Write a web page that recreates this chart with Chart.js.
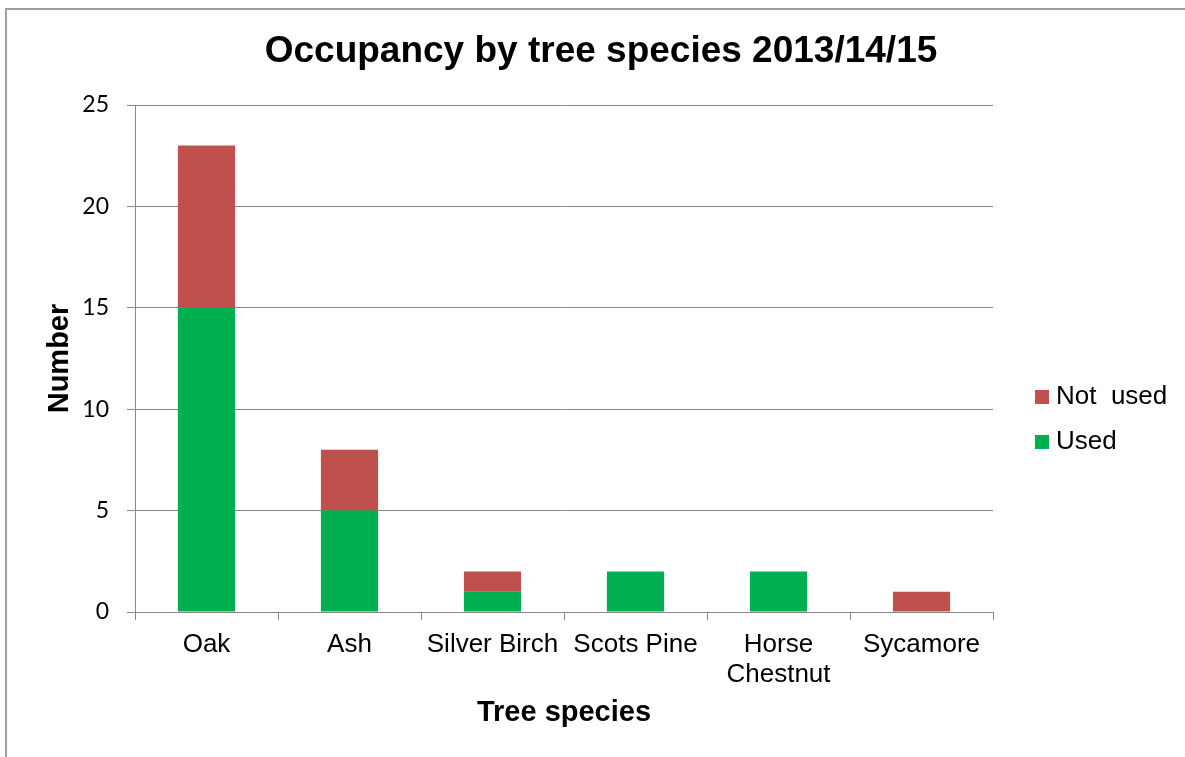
<!DOCTYPE html>
<html>
<head>
<meta charset="utf-8">
<script src="https://cdn.jsdelivr.net/npm/chart.js@4.4.0/dist/chart.umd.min.js"></script>
<style>
  html, body { margin: 0; padding: 0; background: #fff; overflow: hidden; }
  #frame { position: absolute; left: 5px; top: 8px; width: 2000px; height: 2000px; border: 2px solid #a0a0a0; }
  #wrap { position: absolute; left: 0; top: 0; width: 1185px; height: 757px; }
</style>
</head>
<body>
<div id="frame"></div>
<div id="wrap"><canvas id="treeChart" width="1185" height="757"></canvas></div>
<script>
// data
const species = ['Oak', 'Ash', 'Silver Birch', 'Scots Pine', ['Horse', 'Chestnut'], 'Sycamore'];
const used = [15, 5, 1, 2, 2, 0];
const notUsed = [8, 3, 1, 0, 0, 1];
const yTicks = [0, 5, 10, 15, 20, 25];

const gridGrey = '#878787';

// legend drawn to the right of the plot, like the Excel one
const sideLegend = {
    id: 'sideLegend',
    afterDraw(chart) {
        const c = chart.ctx;
        const area = chart.chartArea;
        const x = area.right + 42;
        const mid = (area.top + area.bottom) / 2 + 61;
        const items = chart.data.datasets.slice().reverse();
        c.save();
        c.font = '26px "Liberation Sans", Arial, sans-serif';
        c.textBaseline = 'middle';
        items.forEach((ds, i) => {
            const y = mid + (i - (items.length - 1) / 2) * 45;
            c.fillStyle = ds.backgroundColor;
            c.fillRect(x, y - 7, 14, 14);
            c.fillStyle = '#000';
            c.fillText(ds.label, x + 21, y);
        });
        c.restore();
    }
};

const ctx = document.getElementById('treeChart').getContext('2d');
const treeChart = new Chart(ctx, {
    type: 'bar',
    data: {
        labels: species,
        datasets: [{
            label: 'Used',
            data: used,
            backgroundColor: '#00B050',
            yAxisID: 'y'
        }, {
            label: 'Not  used',
            data: notUsed,
            backgroundColor: '#C0504D',
            yAxisID: 'y'
        }]
    },
    options: {
        responsive: false,
        animation: false,
        layout: { padding: { left: 17, right: 0, top: 0, bottom: 0 } },
        datasets: { bar: { barPercentage: 0.4, categoryPercentage: 1 } },
        plugins: {
            legend: { display: false },
            tooltip: { enabled: false },
            title: {
                display: true,
                text: 'Occupancy by tree species 2013/14/15',
                color: '#000',
                font: { family: '"Liberation Sans", Arial, sans-serif', size: 37, weight: 'bold' },
                padding: { top: 30, bottom: 30.6 }
            }
        },
        scales: {
            x: {
                stacked: true,
                grid: { display: true, drawOnChartArea: false, drawTicks: true, tickLength: 8, color: gridGrey, lineWidth: 1 },
                border: { color: gridGrey, width: 1 },
                ticks: {
                    color: '#000',
                    padding: 10,
                    maxRotation: 0,
                    autoSkip: false,
                    font: { family: '"Liberation Sans", Arial, sans-serif', size: 26, lineHeight: 1.15 }
                },
                title: {
                    display: true,
                    text: 'Tree species',
                    color: '#000',
                    font: { family: '"Liberation Sans", Arial, sans-serif', size: 29, weight: 'bold' },
                    padding: { top: 0, bottom: 27 }
                },
                afterFit: s => { s.height = 145; }
            },
            y: {
                stacked: true,
                min: 0,
                max: 25,
                afterBuildTicks: s => { s.ticks = yTicks.map(v => ({ value: v })); },
                grid: { color: gridGrey, lineWidth: 1, tickLength: 8 },
                border: { color: gridGrey, width: 1 },
                ticks: {
                    color: '#000',
                    padding: 18,
                    font: { family: 'Lato, "Open Sans", sans-serif', size: 23 }
                },
                title: {
                    display: true,
                    text: 'Number',
                    color: '#000',
                    font: { family: '"Liberation Sans", Arial, sans-serif', size: 29, weight: 'bold' },
                    padding: { top: 25.6, bottom: 0 }
                },
                afterFit: s => { s.width = 118; }
            },
            yR: {
                type: 'linear',
                position: 'right',
                display: true,
                grid: { display: false },
                border: { display: false },
                ticks: { display: false },
                afterFit: s => { s.width = 192; }
            }
        }
    },
    plugins: [sideLegend]
});
</script>
</body>
</html>
